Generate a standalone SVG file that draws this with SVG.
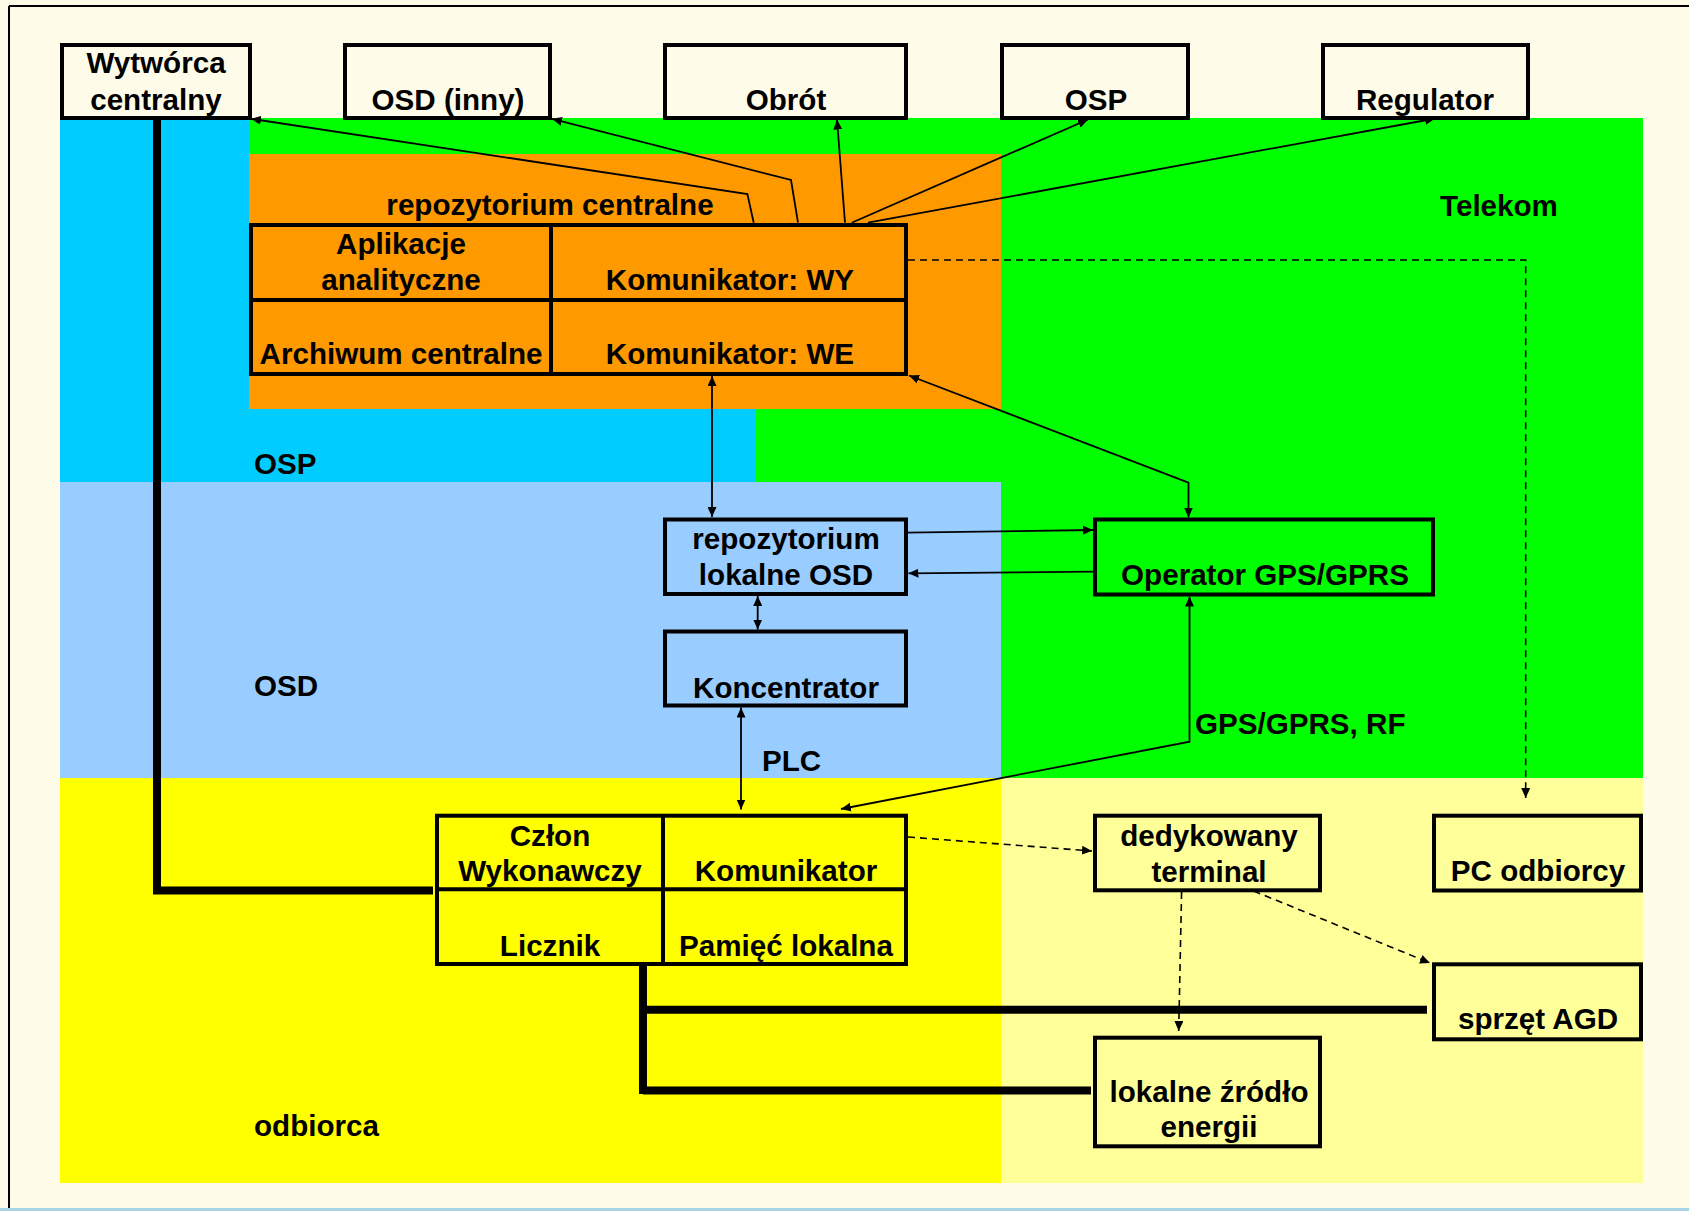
<svg xmlns="http://www.w3.org/2000/svg" width="1689" height="1211" viewBox="0 0 1689 1211">
<defs>
<style>
text{font-family:"Liberation Sans",Arial,sans-serif;font-weight:bold;font-size:29.6px;fill:#000}
.c{text-anchor:middle}
.box{stroke:#000;stroke-width:4;fill:none}
.cream{fill:#FFFBE9}
.ln{stroke:#000;stroke-width:1.8;fill:none}
.dash{stroke:#000;stroke-width:1.6;fill:none;stroke-dasharray:7 5}
.thick{stroke:#000;stroke-width:8;fill:none}
</style>
<marker id="ah" viewBox="0 0 10 9" refX="10" refY="4.5" markerWidth="10" markerHeight="9" markerUnits="userSpaceOnUse" orient="auto-start-reverse">
<path d="M0,0 L10,4.5 L0,9 z" fill="#000"/>
</marker>
</defs>
<rect x="0" y="0" width="1689" height="1211" fill="#FFFBE9"/>
<g id="regions">
<polygon points="60,118 249,118 249,409 756,409 756,482 60,482" fill="#00CCFF"/>
<polygon points="249,118 1643,118 1643,778 1001,778 1001,482 756,482 756,409 249,409" fill="#00FF00"/>
<rect x="249" y="154" width="752" height="255" fill="#FF9900"/>
<rect x="60" y="482" width="941" height="296" fill="#99CCFF"/>
<rect x="60" y="778" width="941" height="405" fill="#FFFF00"/>
<rect x="1001" y="778" width="642" height="405" fill="#FFFF99"/>
</g>
<g id="frame">
<line x1="9" y1="6" x2="1689" y2="6" stroke="#000" stroke-width="2"/>
<line x1="9" y1="6" x2="9" y2="1211" stroke="#000" stroke-width="2"/>
<rect x="0" y="1208" width="1689" height="3" fill="#A6D6E6"/>
</g>
<g id="region-labels">
<text x="1499" y="216" class="c">Telekom</text>
<text x="254" y="474">OSP</text>
<text x="254" y="696">OSD</text>
<text x="254" y="1136">odbiorca</text>
<text x="762" y="771">PLC</text>
<text x="1195" y="734">GPS/GPRS, RF</text>
</g>
<g id="n-wytworca">
<rect x="62" y="45" width="188" height="73" class="box cream"/>
<text x="156" y="73" class="c">Wytwórca</text>
<text x="156" y="110" class="c">centralny</text>
</g>
<g id="n-osd-inny">
<rect x="345" y="45" width="205" height="73" class="box cream"/>
<text x="448" y="110" class="c">OSD (inny)</text>
</g>
<g id="n-obrot">
<rect x="665" y="45" width="241" height="73" class="box cream"/>
<text x="786" y="110" class="c">Obrót</text>
</g>
<g id="n-osp">
<rect x="1002" y="45" width="186" height="73" class="box cream"/>
<text x="1096" y="110" class="c">OSP</text>
</g>
<g id="n-regulator">
<rect x="1323" y="45" width="205" height="73" class="box cream"/>
<text x="1425" y="110" class="c">Regulator</text>
</g>
<g id="n-repo-centralne">
<text x="550" y="215" class="c">repozytorium centralne</text>
<rect x="251" y="225" width="655" height="149" class="box"/>
<line x1="251" y1="300" x2="906" y2="300" stroke="#000" stroke-width="4"/>
<line x1="551" y1="225" x2="551" y2="374" stroke="#000" stroke-width="4"/>
<text x="401" y="254" class="c">Aplikacje</text>
<text x="401" y="290" class="c">analityczne</text>
<text x="730" y="290" class="c">Komunikator: WY</text>
<text x="401" y="364" class="c">Archiwum centralne</text>
<text x="730" y="364" class="c">Komunikator: WE</text>
</g>
<g id="n-repo-lokalne">
<rect x="665" y="519.5" width="241" height="74.5" class="box"/>
<text x="786" y="549" class="c">repozytorium</text>
<text x="786" y="585" class="c">lokalne OSD</text>
</g>
<g id="n-koncentrator">
<rect x="665" y="631.5" width="241" height="74" class="box"/>
<text x="786" y="698" class="c">Koncentrator</text>
</g>
<g id="n-operator">
<rect x="1095" y="519.5" width="338" height="75" class="box"/>
<text x="1265" y="585" class="c">Operator GPS/GPRS</text>
</g>
<g id="n-licznik">
<rect x="437" y="815.7" width="469" height="148.3" class="box"/>
<line x1="437" y1="889.3" x2="906" y2="889.3" stroke="#000" stroke-width="4"/>
<line x1="663" y1="815.7" x2="663" y2="964" stroke="#000" stroke-width="4"/>
<text x="550" y="846" class="c">Człon</text>
<text x="550" y="881" class="c">Wykonawczy</text>
<text x="786" y="881" class="c">Komunikator</text>
<text x="550" y="956" class="c">Licznik</text>
<text x="786" y="956" class="c">Pamięć lokalna</text>
</g>
<g id="n-terminal">
<rect x="1095" y="815.7" width="225" height="74.6" class="box"/>
<text x="1209" y="846" class="c">dedykowany</text>
<text x="1209" y="882" class="c">terminal</text>
</g>
<g id="n-pc">
<rect x="1434" y="815.7" width="207" height="74.8" class="box"/>
<text x="1538" y="881" class="c">PC odbiorcy</text>
</g>
<g id="n-agd">
<rect x="1434" y="964.3" width="207" height="75" class="box"/>
<text x="1538" y="1029" class="c">sprzęt AGD</text>
</g>
<g id="n-zrodlo">
<rect x="1095" y="1037.7" width="225" height="108.6" class="box"/>
<text x="1209" y="1102" class="c">lokalne źródło</text>
<text x="1209" y="1137" class="c">energii</text>
</g>
<g id="connectors">
<path class="thick" d="M157,118 V890.5 H433"/>
<path class="thick" d="M643,964 V1094"/>
<path class="thick" d="M643,1009.7 H1427"/>
<path class="thick" d="M643,1090.5 H1091"/>
<path class="ln" d="M753.7,222.7 L747.4,194 L251,118.8" marker-end="url(#ah)"/>
<path class="ln" d="M798,222.7 L791,180 L552,118.8" marker-end="url(#ah)"/>
<path class="ln" d="M845,222.7 L837,119.5" marker-end="url(#ah)"/>
<path class="ln" d="M851.7,222.7 L1088,119.5" marker-end="url(#ah)"/>
<path class="ln" d="M868,222.7 L1435,118.5" marker-end="url(#ah)"/>
<path class="ln" d="M712,376 V517" marker-start="url(#ah)" marker-end="url(#ah)"/>
<path class="ln" d="M909,375.5 L1188.5,482.7 V517.5" marker-start="url(#ah)" marker-end="url(#ah)"/>
<path class="ln" d="M906,532.7 L1093,530" marker-end="url(#ah)"/>
<path class="ln" d="M1094,571.7 L908.5,573.3" marker-end="url(#ah)"/>
<path class="ln" d="M757.7,596 V629.5" marker-start="url(#ah)" marker-end="url(#ah)"/>
<path class="ln" d="M741,707.5 V809.5" marker-start="url(#ah)" marker-end="url(#ah)"/>
<path class="ln" d="M1189.5,596.5 V741.7 L841,809" marker-start="url(#ah)" marker-end="url(#ah)"/>
<path class="dash" d="M908,260 H1525.7 V798" marker-end="url(#ah)"/>
<path class="dash" d="M908,837 L1092,851" marker-end="url(#ah)"/>
<path class="dash" d="M1181.6,892 L1178.7,1031" marker-end="url(#ah)"/>
<path class="dash" d="M1253.6,891 L1430,963" marker-end="url(#ah)"/>
</g>
</svg>
